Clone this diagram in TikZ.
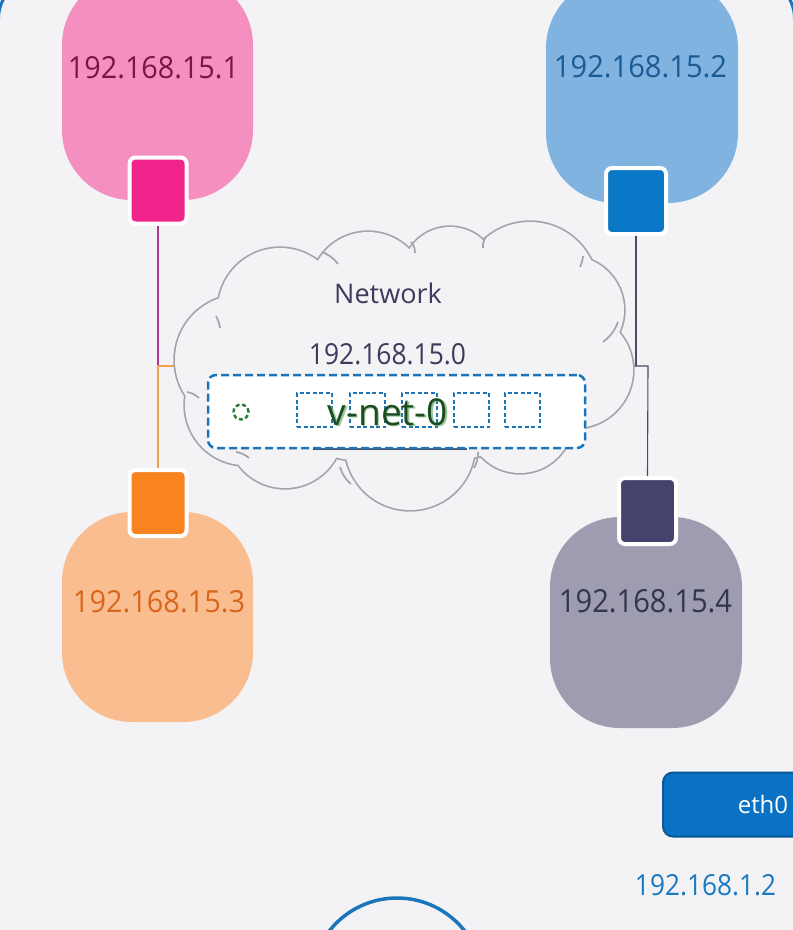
\documentclass[tikz,border=0pt]{standalone}
\usepackage{fontspec}
\setmainfont{Open Sans}
\usepackage{graphicx}
\definecolor{bg}{HTML}{F3F3F5}
\definecolor{frameblue}{HTML}{1A75BB}
\definecolor{pinkfill}{HTML}{F48FBF}
\definecolor{pinktxt}{HTML}{7A1548}
\definecolor{pinksq}{HTML}{F0248A}
\definecolor{pinkline}{HTML}{B0388F}
\definecolor{bluefill}{HTML}{80B3E0}
\definecolor{bluetxt}{HTML}{1B5B94}
\definecolor{bluesq}{HTML}{0B77C7}
\definecolor{orfill}{HTML}{F9BD90}
\definecolor{ortxt}{HTML}{D9661C}
\definecolor{orsq}{HTML}{F8831F}
\definecolor{orline}{HTML}{F0A050}
\definecolor{grfill}{HTML}{9E9CB0}
\definecolor{grtxt}{HTML}{35344F}
\definecolor{grsq}{HTML}{46426E}
\definecolor{darkline}{HTML}{4A4A60}
\definecolor{cloudgray}{HTML}{A3A3AD}
\definecolor{nettxt}{HTML}{3D3B5C}
\definecolor{vnet}{HTML}{1D4D1F}
\definecolor{vnetglow}{HTML}{6FAF6F}
\definecolor{greencirc}{HTML}{2D7A3A}
\definecolor{ethfill}{HTML}{0A72C4}
\definecolor{ethborder}{HTML}{0B5894}
\definecolor{iptxt}{HTML}{1B79C0}
\newcommand{\fitbox}[3]{\resizebox{#1pt}{#2pt}{#3}}
\tikzset{
  blob/.style={rectangle, rounded corners=70pt, inner sep=0pt},
  portsq/.style={rectangle, rounded corners=6pt, draw=white, line width=4pt, minimum width=57pt, minimum height=66pt, inner sep=0pt},
  slot/.style={rectangle, draw=frameblue, line width=1.3pt, dash pattern=on 4pt off 2.5pt, minimum width=35pt, minimum height=34pt, inner sep=0pt},
  wire/.style={line width=1.1pt},
  hook/.style={cloudgray, line width=1.7pt},
}
\begin{document}
\begin{tikzpicture}[x=1pt,y=-1pt]
\useasboundingbox (0,0) rectangle (793,930);
\clip (0,0) rectangle (793,930);
\fill[bg] (0,0) rectangle (793,930);
% outer frame
\draw[frameblue, line width=3pt, rounded corners=40pt] (-1.5,-21.6) rectangle (794.5,1000);

% blobs
\node[blob, fill=pinkfill, minimum width=191pt, minimum height=225pt] (b1) at (157.5,87.5) {};
\node[blob, fill=bluefill, minimum width=192pt, minimum height=225pt] (b2) at (642,90.5) {};
\node[blob, fill=orfill, minimum width=191pt, minimum height=210pt] (b3) at (157.5,617) {};
\node[blob, fill=grfill, minimum width=192pt, minimum height=211pt] (b4) at (646,622.5) {};

\node[text=pinktxt, inner sep=0pt] (t1) at (153.5,68) {\fitbox{171}{22}{192.168.15.1}};
\node[text=bluetxt, inner sep=0pt] (t2) at (640.5,67) {\fitbox{173}{22}{192.168.15.2}};
\node[text=ortxt, inner sep=0pt] (t3) at (159,602) {\fitbox{172}{22}{192.168.15.3}};
\node[text=grtxt, inner sep=0pt] (t4) at (645.5,601.5) {\fitbox{173}{23}{192.168.15.4}};

% junction coordinates
\coordinate (jl) at (158,366);
\coordinate (cl) at (177,366);
\coordinate (jr1) at (636,366);
\coordinate (cr) at (632,366);
\coordinate (jr2) at (648,366);

% ports
\node[portsq, fill=pinksq] (p1) at (158,190.5) {};
\node[portsq, fill=bluesq, minimum width=60pt] (p2) at (636,201) {};
\node[portsq, fill=orsq] (p3) at (158,503) {};
\node[portsq, fill=grsq] (p4) at (647.5,511) {};

% wires
\draw[wire, pinkline] (p1.south) -- (jl);
\draw[wire, orline] (p3.north) -- (jl) -- (cl);
\draw[wire, darkline] (p2.south) -- (jr1);
\draw[wire, darkline] (cr) -- (jr2) -- (p4.north);

% cloud
\def\cloudpath{(280,310) circle (62) (368,290) circle (58) (450,275) circle (48)
 (530,290) circle (68) (570,310) circle (54) (575,370) circle (58)
 (520,420) circle (53) (410,445) circle (65) (285,430) circle (58)
 (245,405) circle (60) (240,360) circle (65) (405,365) ellipse (180 and 100)}
\draw[cloudgray, line width=3.4pt] \cloudpath;
\fill[bg] \cloudpath;
% inner hooks of the cloud outline
\draw[hook] (322,252) to[bend left=15] (338,264);
\draw[hook] (411,242) to[bend left=20] (415,253);
\draw[hook] (486,237) to[bend right=20] (483,248);
\draw[hook] (583,256) to[bend left=10] (580,267);
\draw[hook] (618,322) to[bend left=15] (603,342);
\draw[hook] (478,452) to[bend left=15] (474,468);
\draw[hook] (340,467) to[bend right=15] (351,484);
\draw[hook] (236,452) to[bend left=15] (249,458);
\draw[hook] (187,392) to[bend left=15] (199,398);
\draw[hook] (216,316) to[bend left=10] (220,328);

\node[text=nettxt, font=\fontsize{27}{30}\selectfont, inner sep=0pt] (net) at (388,293) {Network};
\node[text=nettxt, inner sep=0pt] (netip) at (387.5,354) {\fitbox{157}{21}{192.168.15.0}};

% hidden bar under v-net
\draw[darkline, line width=2pt] (313,449) -- (467,449);

% v-net box
\node[rectangle, rounded corners=8pt, draw=frameblue, line width=2.5pt, dash pattern=on 8pt off 4pt, fill=white, minimum width=377pt, minimum height=73pt, inner sep=0pt] (vbox) at (396.5,411.5) {};
\node[circle, draw=greencirc, line width=2.4pt, dash pattern=on 4pt off 2.6pt, minimum size=15pt, inner sep=0pt] (gc) at (241,412) {};
\node[slot] (s1) at (314.5,410) {};
\node[slot] (s2) at (367.5,410) {};
\node[slot] (s3) at (419.5,410) {};
\node[slot] (s4) at (471.5,410) {};
\node[slot] (s5) at (522.5,410) {};
\node[text=vnetglow, opacity=0.7, font=\fontsize{37}{40}\selectfont, inner sep=0pt] (vglow) at (389.2,413.5) {v-net-0};
\node[text=vnet, font=\fontsize{37}{40}\selectfont, inner sep=0pt] (vnet) at (388,412.5) {v-net-0};

% eth0
\node[rectangle, rounded corners=10pt, fill=ethfill, draw=ethborder, line width=2pt, minimum width=140pt, minimum height=64pt, inner sep=0pt] (eth) at (733,804.5) {};
\node[text=white, font=\fontsize{24}{28}\selectfont, inner sep=0pt] (ethl) at (763,804.5) {eth0};
\node[text=iptxt, inner sep=0pt] (ethip) at (705.5,885.5) {\fitbox{141}{21}{192.168.1.2}};

% bottom circle
\node[circle, draw=frameblue, line width=3.5pt, minimum size=172pt, inner sep=0pt] (disk) at (397,984) {};
\end{tikzpicture}
\end{document}
